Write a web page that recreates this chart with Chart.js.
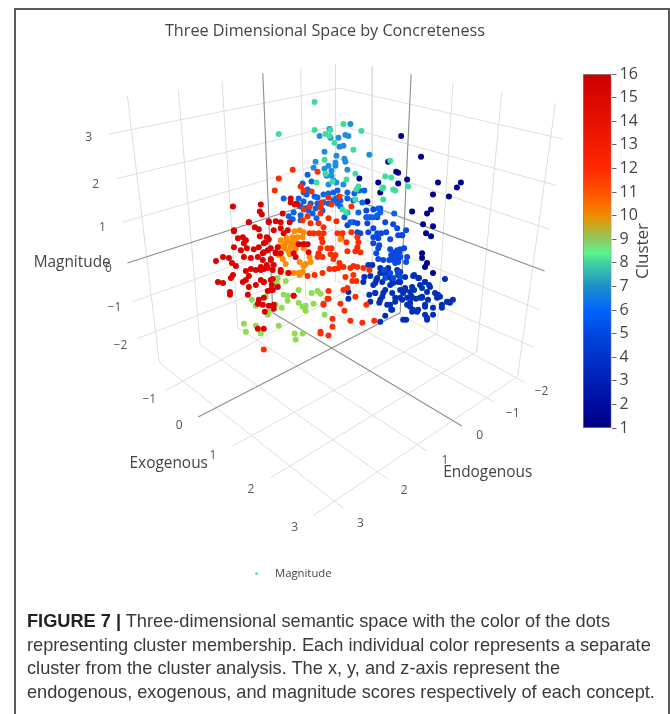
<!DOCTYPE html>
<html>
<head>
<meta charset="utf-8">
<script src="https://cdn.jsdelivr.net/npm/chart.js@4"></script>
<style>
html,body{margin:0;padding:0;background:#fff;width:670px;height:714px;overflow:hidden}
#stage{position:relative;width:670px;height:714px;filter:blur(0.35px)}
#frame{position:absolute;left:14px;top:8px;width:652px;height:720px;border:2px solid #5a5a5a;border-bottom:none;box-sizing:content-box}
#main{position:absolute;left:0;top:0}
#bar{position:absolute;left:540px;top:48px}
#legend{position:absolute;left:275px;top:565px;font:11.3px "Open Sans",sans-serif;color:#444}
#dot{position:absolute;left:255px;top:572px;width:3px;height:3px;border-radius:50%;background:#5ce58f}
#caption{position:absolute;left:27px;top:610px;width:640px;font:18.2px/23.6px "Liberation Sans",Arial,sans-serif;color:#3a3a3a;white-space:nowrap}
#caption b{color:#222}
</style>
</head>
<body>
<div id="stage">
<div id="frame"></div>
<canvas id="main" width="670" height="590"></canvas>
<canvas id="bar" width="130" height="400"></canvas>
<div id="dot"></div><div id="legend">Magnitude</div>
<div id="caption"><b>FIGURE 7 |</b> Three-dimensional semantic space with the color of the dots<br>representing cluster membership. Each individual color represents a separate<br>cluster from the cluster analysis. The x, y, and z-axis represent the<br>endogenous, exogenous, and magnitude scores respectively of each concept.</div>
</div>
<script>
// Projected (plane) coordinates of each concept.
const cluster1 = [[4.01,1.35],[4.21,1.56],[3.88,1.61],[3.96,1.71],[3.98,1.72],[3.59,1.78],[3.78,1.82],[3.98,1.83],[4.07,1.79],[4.38,1.82],[4.61,1.82],[4.57,1.87],[4.33,1.94],[4.49,1.96],[3.80,1.92],[3.67,2.01],[4.12,2.11],[4.27,2.13],[4.31,2.09],[4.23,2.24],[4.33,2.26],[4.26,2.33],[4.31,2.36],[4.02,2.35],[4.22,2.53],[4.22,2.58],[4.27,2.63],[4.25,2.67],[4.33,2.73]];
const cluster3 = [[3.68,2.65],[3.72,2.65],[3.64,2.77],[3.70,2.76],[3.76,2.80],[3.80,2.68],[3.88,2.68],[3.97,2.70],[4.00,2.72],[4.05,2.77],[4.13,2.76],[4.18,2.78],[4.45,2.79],[3.75,2.83],[3.82,2.82],[3.89,2.77],[3.93,2.83],[3.98,2.82],[4.00,2.90],[4.05,2.90],[4.12,2.87],[4.20,2.85],[4.25,2.82],[4.30,2.87],[4.35,2.93],[4.38,2.95],[4.42,3.05],[4.48,3.02],[4.53,3.00],[4.33,3.08],[4.25,3.05],[4.22,2.98],[4.16,2.99],[4.13,3.10],[4.07,3.05],[4.03,2.93],[4.10,3.03],[4.12,3.12],[4.17,3.12],[4.25,3.15],[4.33,3.15],[4.27,3.20],[4.03,3.20],[4.06,3.20],[3.85,3.16],[3.80,3.22],[3.91,3.10],[3.95,3.02],[3.87,3.05],[3.80,3.00],[3.70,3.02],[3.75,2.93],[3.69,2.95],[3.63,2.82],[3.83,2.93],[3.92,2.93],[4.00,2.98],[4.07,2.98],[4.28,3.00],[4.22,2.97],[4.37,2.98],[4.42,3.08],[4.50,3.03],[4.11,2.96],[4.14,2.90],[4.27,2.92],[3.48,2.92],[3.48,2.99],[3.80,2.73],[3.83,2.73],[3.77,2.78],[3.73,2.85],[3.88,2.73],[3.92,2.80],[3.90,2.85],[3.98,2.72],[4.02,3.00],[3.95,2.98],[3.85,2.90],[3.82,2.97],[3.75,2.93],[3.79,3.03],[3.90,3.05],[3.92,3.10],[4.20,2.98],[4.25,3.07],[4.18,3.10],[4.27,3.18],[4.14,2.75],[4.19,2.78],[4.25,2.82],[4.29,2.85],[4.22,2.88],[4.40,2.97],[4.47,3.02],[3.98,2.75],[4.00,2.82],[4.05,2.88],[4.10,2.92],[4.12,2.98],[4.10,3.07]];
const cluster5 = [[3.66,2.10],[3.73,2.09],[3.80,2.08],[3.70,2.17],[3.77,2.17],[3.66,2.17],[3.85,2.22],[3.73,2.28],[3.93,2.24],[3.97,2.28],[4.06,2.30],[3.86,2.32],[3.68,2.32],[3.77,2.33],[3.81,2.33],[3.73,2.37],[3.78,2.38],[3.90,2.39],[4.02,2.35],[3.98,2.35],[3.73,2.43],[3.79,2.45],[3.78,2.48],[3.90,2.49],[4.04,2.48],[4.00,2.49],[3.95,2.52],[3.76,2.53],[3.78,2.59],[3.83,2.60],[3.92,2.57],[3.93,2.60],[3.97,2.57],[4.00,2.57],[3.98,2.60],[3.95,2.63],[4.07,2.57],[4.06,2.62],[3.89,2.60],[3.57,2.32],[3.60,2.33],[3.57,2.23],[3.53,2.22],[3.67,2.23],[3.47,2.25],[3.99,2.52],[3.96,2.56],[3.94,2.55],[3.97,2.50],[3.91,2.55],[3.97,2.53],[3.95,2.60],[3.98,2.62],[3.98,2.72],[3.90,2.73],[3.93,2.78],[4.00,2.77],[3.84,2.70],[3.85,2.78]];
const cluster6 = [[3.07,1.74],[3.11,1.81],[3.02,1.83],[3.07,1.89],[3.03,1.92],[3.06,1.94],[2.83,1.98],[2.98,1.98],[3.14,1.96],[3.17,1.97],[3.23,1.94],[3.28,1.93],[3.33,1.92],[3.37,1.90],[3.47,1.92],[3.54,1.93],[3.64,1.90],[3.59,1.90],[3.36,1.98],[3.40,2.00],[3.03,2.01],[3.00,2.06],[3.10,2.03],[3.17,2.03],[3.23,2.02],[3.28,2.03],[3.47,1.98],[3.53,2.00],[3.62,2.02],[3.37,2.03],[3.00,2.15],[2.88,2.16],[3.12,2.13],[2.93,2.12],[3.22,2.10],[3.15,2.08],[3.47,2.12],[3.67,2.17],[3.73,2.17],[3.78,2.08],[3.80,2.12],[3.77,2.15],[3.94,2.13],[3.00,2.20],[3.05,2.08],[3.08,2.10],[2.96,2.03],[3.20,2.05],[3.33,2.00],[3.40,2.06],[2.92,2.19],[3.16,2.18],[3.44,2.17],[3.50,2.22],[3.58,2.12]];
const cluster7 = [[3.50,1.23],[3.29,1.28],[3.19,1.35],[3.38,1.37],[3.30,1.37],[3.45,1.34],[3.48,1.35],[3.43,1.45],[3.39,1.46],[3.24,1.51],[3.36,1.55],[3.69,1.54],[3.15,1.61],[3.44,1.58],[3.45,1.61],[3.35,1.62],[3.35,1.65],[3.28,1.65],[3.13,1.67],[3.24,1.68],[3.31,1.70],[3.47,1.69],[3.26,1.75],[3.31,1.75],[3.36,1.82],[3.43,1.84],[3.28,1.84],[3.33,1.80]];
const cluster8 = [[3.14,1.01],[2.78,1.33],[3.14,1.29],[3.25,1.33],[3.30,1.29],[3.29,1.35],[3.34,1.42],[3.43,1.23],[3.61,1.30],[3.53,1.49],[3.24,1.59],[3.25,1.73],[3.32,1.81],[3.16,1.82],[3.46,1.79],[3.55,1.73],[3.90,1.60],[3.85,1.76],[3.91,1.77],[3.83,1.87],[3.82,1.88],[3.93,1.89],[3.95,1.90],[4.08,1.86],[3.58,1.86],[3.56,1.89],[3.55,1.99],[3.83,1.99],[3.42,2.09],[3.46,2.12]];
const cluster9 = [[2.77,2.78],[2.76,2.83],[2.85,2.81],[2.77,2.86],[2.73,2.88],[2.83,2.95],[2.87,2.96],[2.98,2.90],[3.11,2.93],[3.17,2.91],[3.20,2.94],[2.87,3.01],[2.98,3.03],[3.02,3.07],[3.05,3.06],[3.05,3.11],[3.13,3.04],[2.81,3.08],[2.75,3.05],[2.68,3.12],[2.67,3.15],[2.51,3.00],[2.55,3.06],[2.60,3.05],[3.24,3.15],[2.43,3.24],[2.45,3.32],[2.55,3.26],[2.60,3.34],[2.78,3.26],[2.94,3.34],[3.02,3.34],[2.95,3.40],[2.65,2.97],[3.02,2.72],[2.99,2.73]];
const cluster10 = [[2.94,2.31],[2.99,2.30],[3.03,2.32],[2.92,2.37],[2.97,2.37],[3.02,2.37],[2.80,2.40],[2.85,2.43],[2.90,2.42],[2.95,2.42],[2.80,2.46],[2.84,2.48],[2.90,2.47],[2.95,2.49],[2.88,2.51],[2.89,2.54],[3.03,2.48],[3.09,2.57],[2.82,2.59],[2.85,2.64],[2.99,2.62],[3.05,2.64],[3.10,2.62],[3.03,2.66],[3.02,2.72],[2.99,2.75],[2.80,2.71],[2.87,2.73],[2.93,2.73],[2.98,2.73],[3.40,2.39],[2.86,2.38],[2.92,2.45],[2.78,2.55]];
const cluster12 = [[2.92,1.69],[2.78,1.78],[2.74,1.90],[3.17,1.71],[3.00,1.86],[3.11,1.91],[3.03,1.90],[3.39,1.96],[3.28,1.97],[3.31,2.04],[3.51,2.06],[3.21,2.02],[3.20,2.07],[3.09,2.06],[3.03,2.09],[3.07,2.16],[3.20,2.13],[3.28,2.18],[3.02,2.20],[3.10,2.23],[3.18,2.23],[3.23,2.27],[3.36,2.21],[3.09,2.33],[3.13,2.33],[3.18,2.33],[3.23,2.33],[3.37,2.33],[3.42,2.33],[3.51,2.32],[3.41,2.38],[3.46,2.42],[3.57,2.37],[3.58,2.42],[3.57,2.47],[3.55,2.51],[3.60,2.52],[3.47,2.51],[3.21,2.38],[3.22,2.42],[3.27,2.48],[3.31,2.48],[3.20,2.48],[3.18,2.53],[3.17,2.57],[3.22,2.57],[3.35,2.55],[3.30,2.54],[3.39,2.63],[3.33,2.59],[3.43,2.67],[3.38,2.68],[3.34,2.69],[3.29,2.69],[3.50,2.68],[3.53,2.66],[3.57,2.67],[3.63,2.68],[3.69,2.70],[3.22,2.73],[3.14,2.75],[3.07,2.76],[3.45,2.77],[3.53,2.75],[3.52,2.81],[3.56,2.81],[3.47,2.88],[3.43,2.90],[3.28,2.91],[3.55,2.97],[3.28,2.99],[3.23,3.04],[3.66,3.05],[3.40,3.04],[3.44,3.11],[3.32,3.19],[3.32,3.27],[3.50,3.21],[3.62,3.23],[3.74,3.21],[3.20,3.32],[3.20,3.34],[3.28,3.36],[2.63,3.50],[2.93,2.96],[3.27,2.99],[3.23,3.05]];
const cluster15 = [[2.15,2.61],[2.22,2.57],[2.28,2.58],[2.31,2.63],[2.35,2.66],[2.33,2.31],[2.37,2.38],[2.42,2.37],[2.45,2.40],[2.43,2.43],[2.33,2.47],[2.40,2.50],[2.46,2.48],[2.48,2.22],[2.54,2.27],[2.58,2.29],[2.59,2.36],[2.68,2.22],[2.75,2.21],[2.80,2.22],[2.89,2.22],[2.80,2.28],[2.73,2.30],[2.83,2.33],[2.68,2.39],[2.63,2.43],[2.58,2.47],[2.53,2.49],[2.63,2.52],[2.70,2.48],[2.75,2.52],[2.80,2.53],[2.43,2.57],[2.50,2.58],[2.57,2.57],[2.62,2.60],[2.70,2.59],[2.73,2.65],[2.67,2.68],[2.60,2.67],[2.55,2.70],[2.45,2.71],[2.50,2.69],[2.63,2.69],[2.80,2.72],[2.32,2.75],[2.30,2.78],[2.17,2.82],[2.22,2.83],[2.29,2.92],[2.29,2.95],[2.42,2.82],[2.45,2.80],[2.48,2.76],[2.48,2.87],[2.55,2.85],[2.63,2.82],[2.70,2.80],[2.71,2.85],[2.72,2.90],[2.67,2.91],[2.47,2.95],[2.58,3.00],[2.63,2.98],[2.57,3.04],[2.62,3.05],[2.68,3.06],[2.73,3.05],[2.73,3.09],[2.64,3.12],[2.57,3.29],[2.63,3.29],[2.93,2.96],[3.07,2.44],[3.03,2.44],[2.32,2.06],[2.60,2.04],[2.59,2.11],[2.61,2.14],[2.82,2.13],[2.90,1.98],[2.90,2.02],[2.94,2.04],[2.97,2.04],[2.68,2.21],[2.48,2.22],[2.33,2.30],[2.87,2.30],[2.66,2.37],[2.65,2.42],[2.77,2.47],[2.67,2.50],[2.75,2.53],[2.62,2.53],[2.70,2.60],[2.66,2.65],[2.72,2.70],[2.60,2.70],[2.80,2.70],[2.60,2.80],[2.72,2.79],[2.63,2.82],[2.77,2.87],[2.70,2.90],[2.98,2.44],[3.03,2.44],[2.93,2.53],[2.95,2.57],[3.08,2.52],[2.88,2.73]];

// Axis grid lines as start and end plane coordinates.
const wallLines = [
 [[1.26,0.95],[1.58,3.63]],[[1.77,0.88],[1.99,3.45]],[[2.21,0.80],[2.37,3.28]],[[3.00,0.67],[3.05,2.98]],[[3.35,0.63],[3.35,2.82]],
 [[3.72,0.65],[3.72,2.77]],[[4.53,0.82],[4.37,3.33]],[[5.02,0.92],[4.77,3.52]],[[5.56,1.02],[5.18,3.77]],
 [[1.08,1.33],[3.39,0.87]],[[1.15,1.78],[3.38,1.24]],[[1.21,2.22],[3.38,1.58]],[[1.31,3.02],[3.37,2.28]],[[1.36,3.39],[3.36,2.62]],
 [[3.39,0.87],[5.63,1.38]],[[3.38,1.24],[5.57,1.85]],[[3.38,1.58],[5.50,2.29]],[[3.37,2.28],[5.40,3.10]],[[3.36,2.62],[5.35,3.48]]
];
const floorLines = [
 [[1.58,3.63],[3.43,5.10]],[[1.99,3.45],[3.87,4.80]],[[2.37,3.28],[4.27,4.52]],[[3.05,2.98],[4.95,4.03]],[[3.38,2.81],[5.25,3.83]],
 [[5.18,3.77],[3.13,5.17]],[[4.77,3.52],[2.70,4.79]],[[4.37,3.34],[2.32,4.47]],[[3.72,2.77],[1.65,3.91]]
];
const zeroLines = [
 [[2.62,0.72],[2.72,3.13]],[[4.11,0.73],[4.00,3.13]],
 [[1.26,2.63],[3.40,1.94]],[[3.40,1.94],[5.45,2.71]],
 [[2.72,3.13],[4.62,4.27]],[[4.00,3.13],[1.97,4.18]]
];

const magnitudeTicks = ["3","2","1","0","\u22121","\u22122"];
const magnitudeTickAt = [[0.87,1.37],[0.94,1.84],[1.01,2.27],[1.07,2.69],[1.13,3.08],[1.19,3.46]];
const exogenousTicks = ["\u22121","0","1","2","3"];
const exogenousTickAt = [[1.48,4.00],[1.78,4.27],[2.12,4.57],[2.50,4.91],[2.94,5.29]];
const endogenousTicks = ["\u22122","\u22121","0","1","2","3"];
const endogenousTickAt = [[5.42,3.92],[5.13,4.14],[4.80,4.37],[4.45,4.62],[4.04,4.92],[3.60,5.25]];
const axisTitles = ["Magnitude","Exogenous","Endogenous"];
const axisTitleAt = [[0.705,2.63],[1.675,4.645],[4.88,4.735]];
const colorbarTitle = "Cluster";

const clusters = [cluster1,cluster3,cluster5,cluster6,cluster7,cluster8,cluster9,cluster12,cluster10,cluster15];
const clusterNames = ["1","3","5","6","7","8","9","12","10","15"];
const clusterColors = ["#00008f","#0030b8","#0a48e0","#0a62ea","#1e8fe0","#3fdca0","#90dc50","#ff2c00","#ff8c00","#dc0000"];

const barTicks = [1,2,3,4,5,6,7,8,9,10,11,12,13,14,15,16];
const barStops = [[1,"#000080"],[2,"#000ca0"],[5,"#0046e0"],[6,"#0064ff"],[7,"#1e90c8"],[8,"#40d0a0"],[8.4,"#5cf58e"],[9,"#90c860"],[9.6,"#c8a820"],[10,"#f08c00"],[10.7,"#ff6000"],[12,"#ff2800"],[14,"#e81000"],[16,"#cc0000"]];

function seg(s){return s.map(p=>({x:p[0],y:p[1]}));}
const lineSets=[];
wallLines.concat(floorLines).forEach(l=>lineSets.push({type:'line',data:seg(l),borderColor:'#dedede',borderWidth:1,pointRadius:0,order:20,parsing:false}));
zeroLines.forEach(l=>lineSets.push({type:'line',data:seg(l),borderColor:'#8e8e8e',borderWidth:1.1,pointRadius:0,order:19,parsing:false}));
const pointSets=clusters.map((c,i)=>({label:'Cluster '+clusterNames[i],data:seg(c),backgroundColor:clusterColors[i],borderWidth:0,pointRadius:3,pointHoverRadius:3,order:10-i}));

const planeText={id:'planeText',afterDatasetsDraw(chart){
 const {ctx,scales:{x,y}}=chart;
 ctx.save();ctx.textBaseline='middle';ctx.textAlign='center';
 const put=(labels,at,font,color)=>{ctx.font=font;ctx.fillStyle=color;labels.forEach((t,i)=>ctx.fillText(t,x.getPixelForValue(at[i][0]),y.getPixelForValue(at[i][1])));};
 put(magnitudeTicks,magnitudeTickAt,'12px "Open Sans"','#555');
 put(exogenousTicks,exogenousTickAt,'12px "Open Sans"','#555');
 put(endogenousTicks,endogenousTickAt,'12px "Open Sans"','#555');
 put(axisTitles,axisTitleAt,'15.4px "Open Sans"','#444');
 ctx.restore();
}};

new Chart(document.getElementById('main'),{
 type:'scatter',
 data:{datasets:lineSets.concat(pointSets)},
 options:{responsive:false,animation:false,events:[],
  layout:{padding:{left:0,right:20,top:0,bottom:0}},
  plugins:{legend:{display:false},tooltip:{enabled:false},
   title:{display:true,text:'Three Dimensional Space by Concreteness',color:'#444',font:{family:'"Open Sans"',size:16.2,weight:'normal'},padding:{top:22,bottom:7},align:'center'}},
  scales:{
   x:{type:'linear',min:0.01,max:6.51,display:false},
   y:{type:'linear',min:0.47,max:5.89,reverse:true,display:false}
  }},
 plugins:[planeText]
});

const barTitle={id:'barTitle',afterDraw(chart){
 const {ctx,scales:{y}}=chart;
 ctx.save();ctx.translate(103,y.getPixelForValue(8.5));ctx.rotate(-Math.PI/2);
 ctx.textAlign='center';ctx.textBaseline='middle';ctx.font='17px "Open Sans"';ctx.fillStyle='#444';
 ctx.fillText(colorbarTitle,0,0);ctx.restore();
}};

new Chart(document.getElementById('bar'),{
 type:'bar',
 data:{labels:['Cluster'],datasets:[{data:[[1,16]],borderColor:'#888',borderWidth:1,borderSkipped:false,barPercentage:1,categoryPercentage:1,
  backgroundColor(c){const ch=c.chart,a=ch.chartArea;if(!a)return '#888';const s=ch.scales.y,g=ch.ctx.createLinearGradient(0,s.getPixelForValue(1),0,s.getPixelForValue(16));barStops.forEach(b=>g.addColorStop((b[0]-1)/15,b[1]));return g;}}]},
 options:{responsive:false,animation:false,events:[],
  layout:{padding:{left:43,right:30,top:26,bottom:20}},
  plugins:{legend:{display:false},tooltip:{enabled:false}},
  scales:{
   x:{display:false},
   y:{position:'right',type:'linear',min:1,max:16,grid:{drawOnChartArea:false,tickLength:5,tickColor:'#666',drawTicks:true,tickWidth:1},border:{display:false},
    afterBuildTicks(a){a.ticks=barTicks.map(v=>({value:v}));},
    ticks:{autoSkip:false,padding:3,color:'#444',font:{family:'"Open Sans"',size:16},maxRotation:0}}
  }},
 plugins:[barTitle]
});
</script>
</body>
</html>
